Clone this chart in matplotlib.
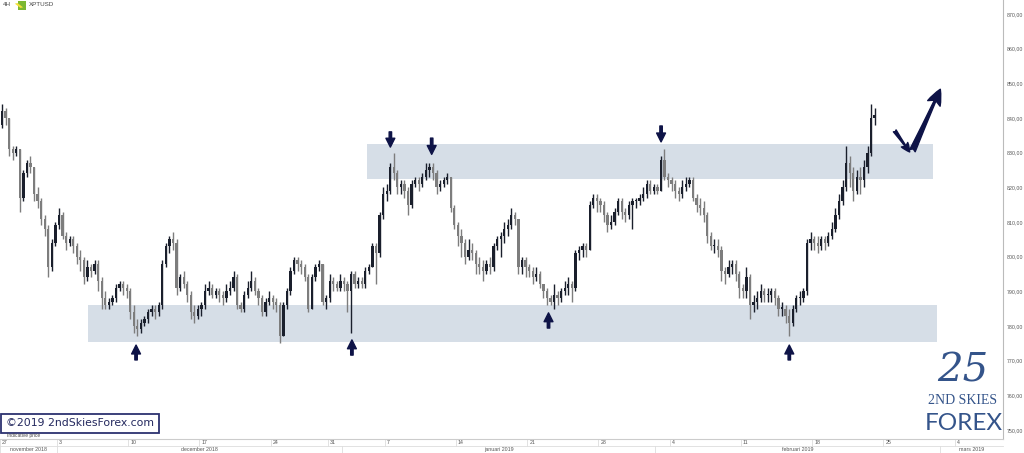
import matplotlib
matplotlib.use('Agg')
import matplotlib.pyplot as plt
import matplotlib.transforms as mtransforms
from matplotlib.patches import Rectangle
import numpy as np

# XPTUSD 4H-ish bars, 4 per trading day (open = previous close)
first_open = 838
closes = [
    842, 840, 831, 830,  831, 817, 824, 827,  826, 818, 816, 811,  808, 797, 804, 809,
    812, 806, 804, 805,  803, 800, 799, 794,  797, 796, 798, 793,  788, 786, 787, 788,
    791, 792, 791, 790,  784, 780, 779, 781,  782, 784, 785, 784,  786, 798, 803, 805,
    804, 791, 794, 792,  789, 784, 783, 785,  786, 790, 791, 789,  790, 789, 788, 790,
    791, 794, 786, 785,  789, 791, 793, 790,  788, 784, 787, 788,  787, 786, 777, 786,
    790, 796, 799, 798,  797, 794, 785, 794,  797, 798, 787, 788,  793, 792, 791, 793,
    792, 790, 795, 792,  793, 792, 796, 797,  803, 801, 812, 818,  819, 826, 824, 820,
    821, 819, 815, 821,  822, 821, 823, 825,  826, 824, 820, 821,  822, 823, 814, 809,
    806, 804, 800, 802,  801, 798, 797, 796,  798, 797, 803, 805,  806, 808, 809, 812,
    811, 797, 799, 797,  796, 794, 795, 792,  790, 788, 787, 789,  788, 790, 791, 792,
    791, 801, 802, 803,  802, 815, 817, 816,  815, 812, 809, 810,  813, 816, 813, 812,
    815, 816, 816, 817,  818, 821, 819, 820,  819, 828, 823, 822,  821, 819, 818, 820,
    821, 822, 817, 815,  814, 812, 806, 803,  803, 802, 796, 795,  797, 798, 795, 791,
    790, 794, 786, 787,  788, 790, 789, 789,  790, 788, 785, 785,  783, 781, 785, 788,
    788, 790, 804, 805,  804, 803, 805, 804,  806, 808, 812, 816,  820, 827, 824, 819,
    823, 822, 826, 830,  840, 841]
highs = [
    844, 843, 840, 832,  832, 831, 825, 828,  829, 826, 820, 817,  812, 809, 805, 810,
    814, 813, 807, 806,  806, 804, 802, 800,  799, 798, 799, 799,  794, 790, 788, 789,
    792, 793, 793, 792,  791, 786, 782, 782,  783, 785, 786, 786,  787, 799, 804, 806,
    807, 805, 795, 796,  793, 790, 786, 786,  787, 792, 793, 792,  791, 791, 790, 792,
    793, 796, 795, 787,  790, 793, 796, 794,  791, 789, 788, 790,  789, 788, 787, 787,
    791, 797, 800, 800,  799, 798, 795, 795,  798, 799, 798, 789,  795, 794, 793, 795,
    794, 793, 796, 796,  794, 794, 797, 798,  804, 804, 813, 820,  821, 827, 830, 825,
    822, 822, 820, 822,  823, 823, 824, 827,  827, 827, 825, 822,  823, 824, 823, 815,
    810, 808, 805, 805,  804, 802, 800, 799,  799, 800, 804, 806,  807, 810, 811, 814,
    813, 811, 800, 800,  798, 797, 797, 796,  792, 791, 789, 792,  790, 791, 793, 794,
    793, 802, 803, 804,  804, 816, 818, 818,  817, 816, 813, 812,  814, 817, 817, 814,
    816, 817, 817, 818,  820, 822, 822, 821,  821, 829, 831, 824,  823, 822, 820, 822,
    823, 823, 823, 818,  817, 816, 813, 807,  805, 805, 803, 797,  799, 799, 799, 796,
    792, 797, 795, 789,  790, 792, 791, 791,  791, 791, 789, 787,  786, 785, 786, 789,
    790, 791, 805, 807,  806, 806, 806, 806,  807, 810, 814, 818,  822, 832, 829, 826,
    825, 826, 828, 832,  844, 843]
lows = [
    837, 838, 829, 828,  829, 813, 816, 823,  824, 816, 814, 809,  806, 794, 796, 803,
    808, 805, 802, 803,  801, 798, 796, 792,  793, 794, 795, 790,  785, 785, 785, 786,
    787, 790, 789, 788,  782, 778, 777, 778,  780, 781, 783, 782,  783, 785, 797, 801,
    802, 789, 790, 791,  787, 782, 781, 782,  783, 785, 789, 788,  788, 787, 786, 787,
    789, 790, 785, 784,  784, 788, 790, 789,  786, 783, 783, 786,  785, 784, 775, 777,
    785, 789, 795, 796,  795, 793, 784, 785,  793, 796, 786, 785,  787, 790, 790, 790,
    790, 784, 778, 791,  791, 791, 791, 795,  797, 792, 800, 811,  816, 818, 822, 818,
    818, 817, 812, 814,  820, 819, 820, 822,  823, 822, 818, 819,  820, 821, 813, 808,
    803, 800, 798, 799,  799, 795, 795, 793,  795, 795, 796, 802,  800, 804, 806, 808,
    809, 795, 795, 794,  794, 792, 793, 791,  788, 786, 786, 785,  786, 787, 789, 789,
    787, 790, 799, 800,  800, 802, 814, 813,  813, 810, 807, 808,  809, 812, 811, 810,
    811, 808, 814, 815,  816, 817, 818, 818,  818, 819, 822, 820,  819, 817, 816, 817,
    819, 820, 816, 813,  812, 810, 804, 802,  801, 800, 793, 792,  794, 795, 793, 788,
    788, 788, 782, 784,  785, 787, 787, 787,  787, 786, 783, 783,  781, 777, 780, 784,
    786, 787, 789, 802,  802, 801, 802, 802,  803, 805, 807, 811,  815, 819, 820, 816,
    818, 818, 820, 824,  829, 838]

# support / resistance zones: (day start, day end, price low, price high)
zones = [(25.75, 65.5, 822.4, 832.5),
         (6.2, 65.8, 775.4, 786.1)]

# small arrows: (day, tail price, tip price)
arrows_small = [(9.55, 770.2, 774.5), (24.7, 771.6, 776.0), (38.5, 779.4, 783.8),
                (55.4, 770.2, 774.5), (27.4, 836.0, 831.6), (30.3, 834.2, 829.5),
                (46.4, 837.7, 833.1)]
# projection arrows: (tail day, tail price, tip day, tip price, size)
arrows_big = [(62.8, 836.3, 63.85, 830.2, 0.8), (64.05, 830.6, 66.0, 848.3, 1.4)]

week_days = [0, 4, 9, 14, 19, 23, 27, 32, 37, 42, 47, 52, 57, 62, 67]
week_labels = ['27', '3', '10', '17', '24', '31', '7', '14', '21', '28', '4', '11', '18', '25', '4']
month_edges = [0, 4, 24, 46, 66, 70.4]
month_labels = ['november 2018', 'december 2018', 'januari 2019', 'februari 2019', 'mars 2019']

price_ticks = np.arange(750, 871, 10)

navy = '#0e1347'
band_col = '#d6dee7'
up_col = '#1a1f2c'
dn_col = '#7d7d7d'

fig = plt.figure(figsize=(10.24, 4.53), dpi=100)
ax = fig.add_axes([0, 14/453, 1003/1024, 439/453])
ax.set_xlim(0, 70.4)
ax.set_ylim(747.4, 874.04)

c = np.array(closes, dtype=float)
o = np.concatenate([[first_open], c[:-1]])
h = np.array(highs, dtype=float)
l = np.array(lows, dtype=float)
x = np.arange(len(c)) / 4.0 + 0.14
cols = [up_col if cc >= oo else dn_col for cc, oo in zip(c, o)]

for z in zones:
    ax.add_patch(Rectangle((z[0], z[2]), z[1]-z[0], z[3]-z[2], facecolor=band_col,
                           edgecolor='none', zorder=1))

ax.vlines(x, l, h, colors=cols, linewidth=1.0, zorder=3)
body = np.maximum(np.abs(c - o), 0.35)
ax.bar(x, body, bottom=np.minimum(o, c), width=0.16, color=cols, linewidth=0, zorder=4)

for d, p0, p1 in arrows_small:
    ax.annotate('', xy=(d, p1), xytext=(d, p0),
                arrowprops=dict(arrowstyle='simple,head_length=0.8,head_width=0.8,tail_width=0.22',
                                color=navy, mutation_scale=8, shrinkA=0, shrinkB=0), zorder=5)
for d0, p0, d1, p1, s in arrows_big:
    ax.annotate('', xy=(d1, p1), xytext=(d0, p0),
                arrowprops=dict(arrowstyle='fancy,head_length=0.8,head_width=0.7,tail_width=0.3',
                                color=navy, mutation_scale=10*s, shrinkA=0, shrinkB=0), zorder=5)

# axes styling
for s in ['top', 'left']:
    ax.spines[s].set_visible(False)
ax.spines['right'].set_color('#bbbbbb')
ax.spines['bottom'].set_color('#cccccc')
ax.spines['right'].set_linewidth(0.8)
ax.spines['bottom'].set_linewidth(0.8)
ax.yaxis.tick_right()
ax.set_yticks(price_ticks)
ax.set_yticklabels([('%.2f' % v).replace('.', ',') for v in price_ticks],
                   fontsize=3.8, color='#555555', family='Liberation Sans')
ax.tick_params(axis='y', length=0, pad=3)
ax.set_xticks([])

# date rows under the chart
trans = mtransforms.blended_transform_factory(ax.transData, ax.transAxes)
fa = 1/439
for d, lab in zip(week_days, week_labels):
    ax.plot([d, d], [0, -7*fa], transform=trans, color='#dddddd', lw=0.6, clip_on=False)
    ax.text(d + 0.15, -3.8*fa, lab, transform=trans, fontsize=3.8, color='#555555',
            va='center', ha='left', family='Liberation Sans', clip_on=False)
ax.plot([0, 70.4], [-7*fa, -7*fa], transform=trans, color='#dddddd', lw=0.6, clip_on=False)
for i, lab in enumerate(month_labels):
    a, b = month_edges[i], month_edges[i+1]
    ax.plot([a, a], [-7*fa, -14*fa], transform=trans, color='#dddddd', lw=0.6, clip_on=False)
    ax.text((a+b)/2, -10.8*fa, lab, transform=trans, fontsize=3.8, color='#555555',
            va='center', ha='center', family='Liberation Sans', clip_on=False)

# header
fig.text(3/1024, 1-5/453, '4H', fontsize=4.5, color='#444444', va='center', family='Liberation Sans')
fig.patches.append(Rectangle((18/1024, 1-10/453), 8/1024, 9/453, transform=fig.transFigure,
                             facecolor='#7cb832', edgecolor='none', figure=fig))
fig.patches.append(Rectangle((20.5/1024, 1-8/453), 3/1024, 5/453, transform=fig.transFigure,
                             facecolor='#f3e03a', edgecolor='none', figure=fig, angle=30))
fig.text(29/1024, 1-5/453, 'XPTUSD', fontsize=4.5, color='#444444', va='center', family='Liberation Sans')

# copyright box
fig.text(80/1024, 1-423.5/453, '\u00a92019 2ndSkiesForex.com', fontsize=7.8, color='#23285e',
         ha='center', va='center', family='DejaVu Sans',
         bbox=dict(boxstyle='square,pad=0.45', facecolor='white', edgecolor='#2c3170', linewidth=1.3))
fig.text(7/1024, 1-436/453, 'Indicative price', fontsize=3.5, color='#444444', va='center',
         family='Liberation Sans')

# logo
logo = '#34548a'
fig.text(963/1024, 1-371/453, '25', fontsize=29, color=logo, ha='center', va='center',
         family='DejaVu Serif', style='italic')
fig.text(963/1024, 1-400/453, '2ND SKIES', fontsize=10, color=logo, ha='center', va='center',
         family='Liberation Serif')
fig.text(964/1024, 1-424/453, 'FOREX', fontsize=17.5, color=logo, ha='center', va='center',
         family='Lato')

fig.savefig('out.png', dpi=100, facecolor='white')
